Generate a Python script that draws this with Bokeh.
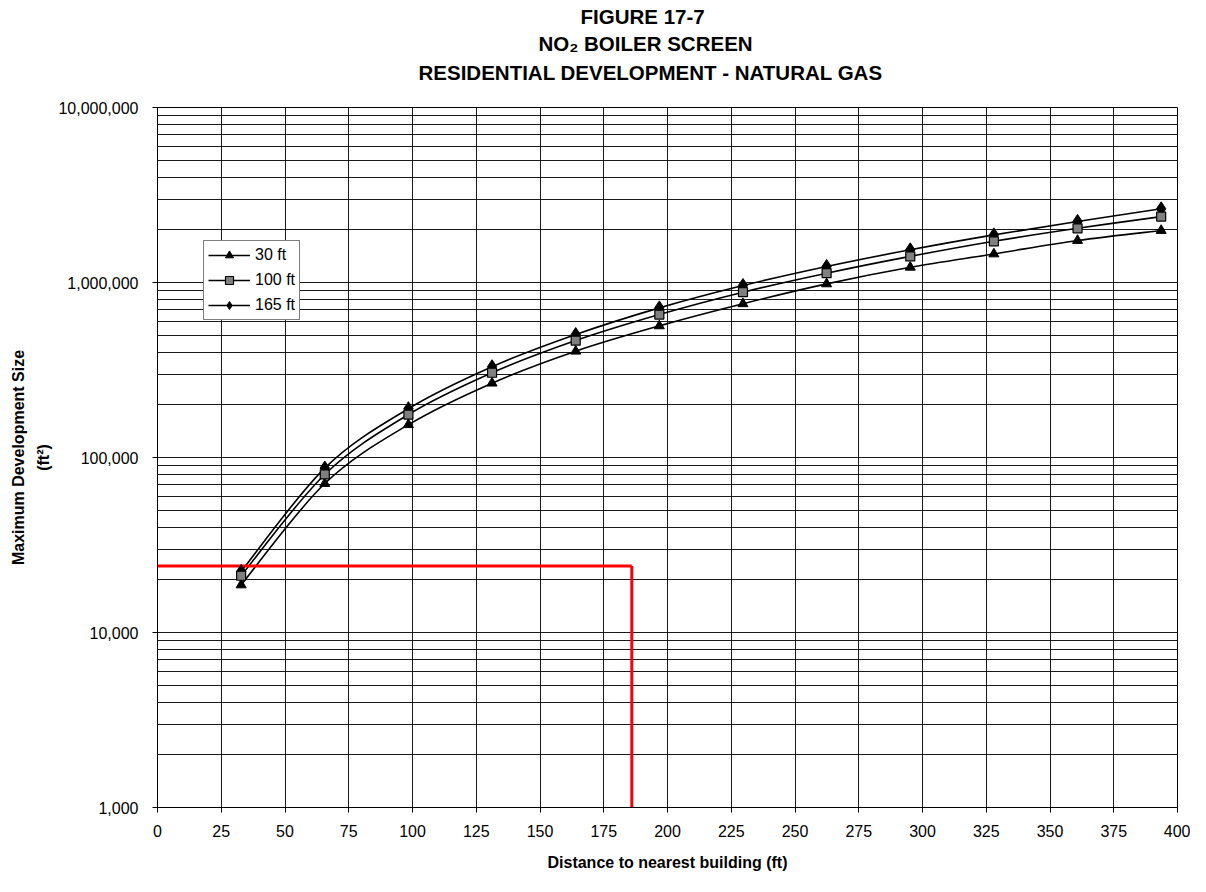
import numpy as np
from bokeh.plotting import figure
from bokeh.models import (FixedTicker, NumeralTickFormatter, Legend, LegendItem,
                          Title, Range1d, LinearAxis)
from bokeh.embed import file_html
from bokeh.resources import INLINE

# ---------------- data ----------------
distance_ft = [32.8, 65.6, 98.4, 131.2, 164.0, 196.8, 229.6, 262.4, 295.2, 328.0, 360.8, 393.6]
series_labels = ["30 ft", "100 ft", "165 ft"]
size_30 = [18700, 71000, 154000, 266000, 405000, 565000, 756000, 982000, 1222000, 1456000, 1738000, 1982000]
size_100 = [21100, 80000, 176000, 305000, 466000, 656000, 880000, 1130000, 1410000, 1720000, 2040000, 2380000]
size_165 = [22300, 87000, 190000, 330000, 504000, 716000, 961000, 1234000, 1538000, 1871000, 2233000, 2637000]

x_ticks = [0, 25, 50, 75, 100, 125, 150, 175, 200, 225, 250, 275, 300, 325, 350, 375, 400]
y_major = [1000, 10000, 100000, 1000000, 10000000]
y_minor = [m * d for d in [1000, 10000, 100000, 1000000] for m in range(2, 10)]

title_lines = ["FIGURE 17-7", "NO\u2082 BOILER SCREEN", "RESIDENTIAL DEVELOPMENT - NATURAL GAS"]

example_distance = 186
example_size = 24000

FONT = "Liberation Sans"

p = figure(width=1190, height=876, x_range=Range1d(0, 400), y_range=Range1d(1000, 10000000),
           y_axis_type="log", output_backend="svg", toolbar_location=None,
           min_border_left=157, min_border_right=13, min_border_top=107, min_border_bottom=69)
p.title = None

xax = p.below[0]
yax = p.left[0]

# axes
xax.ticker = FixedTicker(ticks=x_ticks)
yax.ticker = FixedTicker(ticks=y_major, minor_ticks=y_minor)
yax.formatter = NumeralTickFormatter(format="0,0")
for ax in (xax, yax):
    ax.axis_line_color = "black"
    ax.major_tick_line_color = "black"
    ax.major_tick_out = 5
    ax.major_tick_in = 0
    ax.minor_tick_line_color = None
    ax.major_label_text_font = FONT
    ax.major_label_text_font_size = "16px"
    ax.major_label_text_color = "black"
    ax.axis_label_text_font = FONT
    ax.axis_label_text_font_size = "16px"
    ax.axis_label_text_font_style = "bold"
    ax.axis_label_text_color = "black"

xax.axis_label = "Distance to nearest building (ft)"
xax.major_label_standoff = 12
xax.axis_label_standoff = 14
yax.axis_label = "Maximum Development Size\n(ft\u00b2)"
yax.axis_label_text_line_height = 1.5
yax.major_label_standoff = 14
yax.axis_label_standoff = 3

# invisible spacer between the frame and the title block
spacer = LinearAxis(ticker=FixedTicker(ticks=[0]), axis_line_color=None, major_tick_out=21,
                    major_tick_in=0, major_tick_line_color=None, minor_tick_line_color=None,
                    major_label_standoff=0, major_label_overrides={0: ""},
                    major_label_text_font_size="1px", major_label_text_color=None)
p.add_layout(spacer, "above")

# titles: innermost first (text, left offset from frame, standoff)
title_layout = [(title_lines[2], 261, 6), (title_lines[1], 381, 2), (title_lines[0], 423, 2)]
for txt, off, so in title_layout:
    p.add_layout(Title(text=txt, align="left", text_font=FONT, text_font_size="20.5px",
                       text_font_style="bold", offset=off, standoff=so, text_color="black"), "above")

p.outline_line_color = "black"
p.outline_line_width = 1
p.background_fill_color = "white"
p.border_fill_color = "white"

# grids
p.xgrid.grid_line_color = "#1a1a1a"
p.xgrid.grid_line_width = 1
p.ygrid.grid_line_color = "#1a1a1a"
p.ygrid.grid_line_width = 1
p.ygrid.minor_grid_line_color = "#1a1a1a"
p.ygrid.minor_grid_line_width = 1


def smooth_segments(xs, ys):
    """Cubic (Catmull-Rom) Bezier segments through the data points, in x / log10(y) space."""
    lx = np.asarray(xs, float)
    ly = np.log10(np.asarray(ys, float))
    n = len(lx)
    qx = np.concatenate([[lx[0]], lx, [lx[-1]]])
    qy = np.concatenate([[ly[0]], ly, [ly[-1]]])
    cx0 = qx[1:n] + (qx[2:n + 1] - qx[0:n - 1]) / 6
    cy0 = qy[1:n] + (qy[2:n + 1] - qy[0:n - 1]) / 6
    cx1 = qx[2:n + 1] - (qx[3:n + 2] - qx[1:n]) / 6
    cy1 = qy[2:n + 1] - (qy[3:n + 2] - qy[1:n]) / 6
    return dict(x0=lx[:-1], y0=10 ** ly[:-1], x1=lx[1:], y1=10 ** ly[1:],
                cx0=cx0, cy0=10 ** cy0, cx1=cx1, cy1=10 ** cy1)


all_series = [size_30, size_100, size_165]
curves = []
for ys in all_series:
    seg = smooth_segments(distance_ft, ys)
    r = p.bezier(line_color="black", line_width=1.6, **seg)
    curves.append(r)

# red example lines
p.line(x=[0, example_distance], y=[example_size, example_size], line_color="#ff0000", line_width=3)
p.line(x=[example_distance, example_distance], y=[1000, example_size], line_color="#ff0000", line_width=3)

m30 = p.scatter(distance_ft, size_30, marker="triangle", size=10, fill_color="black", line_color="black")
m165 = p.scatter(distance_ft, size_165, marker="diamond", size=14, fill_color="black", line_color="black")
m100 = p.scatter(distance_ft, size_100, marker="square", size=9, fill_color="#808080", line_color="black",
                 line_width=1.2)

legend = Legend(items=[LegendItem(label=series_labels[0], renderers=[curves[0], m30]),
                       LegendItem(label=series_labels[1], renderers=[curves[1], m100]),
                       LegendItem(label=series_labels[2], renderers=[curves[2], m165])],
                location=(46, 487), glyph_width=42, glyph_height=20, label_height=20,
                label_standoff=5, spacing=5, padding=4, margin=0,
                border_line_color="black", border_line_width=1, background_fill_color="white",
                background_fill_alpha=1, label_text_font=FONT, label_text_font_size="16px",
                label_text_color="black")
p.add_layout(legend, "center")

open("out.html", "w").write(file_html(p, INLINE))
